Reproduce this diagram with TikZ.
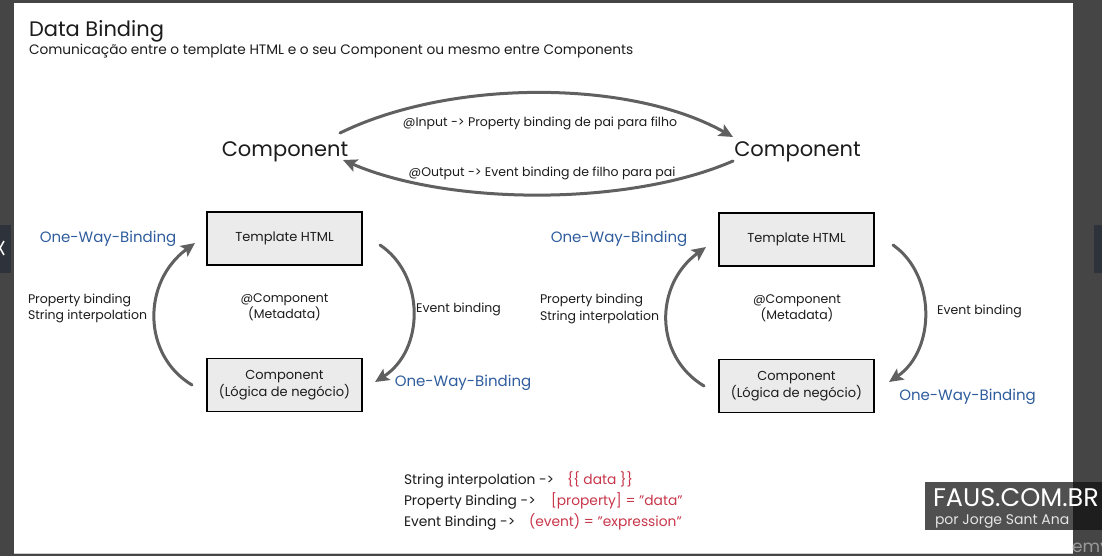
\documentclass[tikz,border=0pt]{standalone}
\usepackage{fontspec}
\setmainfont{Poppins}
\usetikzlibrary{arrows.meta}
\definecolor{framegray}{HTML}{454545}
\definecolor{tabgray}{HTML}{2E323B}
\definecolor{inkc}{HTML}{1C1C1C}
\definecolor{arrowgray}{HTML}{606060}
\definecolor{boxfill}{HTML}{EBEBEB}
\definecolor{bluec}{HTML}{2F5D9E}
\definecolor{redc}{HTML}{C8364A}
\definecolor{wmgray}{HTML}{505050}
\definecolor{wmdark}{HTML}{1E1E1E}
\begin{document}
\begin{tikzpicture}[x=1pt,y=-1pt,
  every node/.style={inner sep=0pt, outer sep=0pt, text=inkc},
  arr/.style={draw=arrowgray, line width=3pt, line cap=round,
    -{Stealth[length=14pt,width=13pt,inset=3pt]}},
  boxnode/.style={draw=black, line width=1.7pt, fill=boxfill,
    minimum width=155pt, minimum height=53pt, align=center,
    font=\fontsize{13}{17}\selectfont},
  bigcomp/.style={anchor=base, font=\fontsize{21}{25}\selectfont},
  arclabel/.style={font=\fontsize{12.5}{15}\selectfont},
  sidelabel/.style={font=\fontsize{12.5}{16.5}\selectfont, align=left},
  metalabel/.style={font=\fontsize{12.5}{16.5}\selectfont, align=center},
  owb/.style={text=bluec, font=\fontsize{15}{18}\selectfont},
  codeblack/.style={anchor=base west, font=\fontsize{13.8}{16}\selectfont},
  codered/.style={anchor=base west, text=redc, font=\fontsize{13.8}{16}\selectfont}
]
\useasboundingbox (0,0) rectangle (1102,556);
% screen frame
\fill[framegray] (0,0) rectangle (1102,556);
\fill[white] (14,3) rectangle (1073,553);
\draw[gray!40, line width=1pt] (14,553.5) -- (1073,553.5);
\fill[tabgray] (0,225) rectangle (11,273);
\draw[white, line width=1.5pt] (4,241) -- (0,248) -- (4,255);
\fill[tabgray] (1094,225) rectangle (1102,273);

% title
\node[anchor=base west, font=\fontsize{21}{25}\selectfont] (title) at (29,37) {Data Binding};
\node[anchor=base west, font=\fontsize{13.7}{17}\selectfont] (subtitle) at (29,55)
  {Comunicação entre o template HTML e o seu Component ou mesmo entre Components};

% parent / child components
\node[bigcomp] (compL) at (285,157) {Component};
\node[bigcomp] (compR) at (797.5,157) {Component};
\coordinate (inS) at (340,133);
\coordinate (inE) at (733,137);
\coordinate (outS) at (733,161);
\coordinate (outE) at (343,160);
\draw[arr] (inS) .. controls (450,79) and (630,79) .. (inE);
\draw[arr] (outS) .. controls (630,206) and (450,206) .. (outE);
\node[arclabel] (inLbl) at (540,123) {@Input -> Property binding de pai para filho};
\node[arclabel] (outLbl) at (542,173) {@Output -> Event binding de filho para pai};

% left cycle
\node[boxnode] (tplL) at (284.5,238.5) {Template HTML};
\node[boxnode] (cmpL) at (284.5,385) {Component\\(Lógica de negócio)};
\node[metalabel] (metaL) at (284.5,307) {@Component\\(Metadata)};
\coordinate (l1s) at (192,385);
\coordinate (l1e) at (195,243);
\coordinate (r1s) at (380,245);
\coordinate (r1e) at (375,382);
\draw[arr] (l1s) .. controls (142,355) and (142,282) .. (l1e);
\draw[arr] (r1s) .. controls (425,275) and (425,350) .. (r1e);
\node[owb] (owbL1) at (108,239) {One-Way-Binding};
\node[owb] (owbL2) at (463,383) {One-Way-Binding};
\node[sidelabel, anchor=west] (propL) at (28,308.5) {Property binding\\String interpolation};
\node[arclabel] (evL) at (458.5,309) {Event binding};

% right cycle
\node[boxnode] (tplR) at (796.5,239.5) {Template HTML};
\node[boxnode] (cmpR) at (796.5,386) {Component\\(Lógica de negócio)};
\node[metalabel] (metaR) at (797,308) {@Component\\(Metadata)};
\coordinate (l2s) at (704,386);
\coordinate (l2e) at (706,247);
\coordinate (r2s) at (893,245);
\coordinate (r2e) at (889,382);
\draw[arr] (l2s) .. controls (654,356) and (654,285) .. (l2e);
\draw[arr] (r2s) .. controls (936,275) and (936,350) .. (r2e);
\node[owb] (owbR1) at (619,239) {One-Way-Binding};
\node[owb] (owbR2) at (967.5,397) {One-Way-Binding};
\node[sidelabel, anchor=west] (propR) at (540,309) {Property binding\\String interpolation};
\node[arclabel] (evR) at (979.5,311) {Event binding};

% syntax summary
\node[codeblack] (s1) at (404,484) {String interpolation ->};
\node[codered] (s1r) at (567,484) {\{\{ data \}\}};
\node[codeblack] (s2) at (404,505) {Property Binding ->};
\node[codered] (s2r) at (551,505) {[property] = "data"};
\node[codeblack] (s3) at (404,526) {Event Binding ->};
\node[codered] (s3r) at (529,526) {(event) = "expression"};

% watermark
\fill[wmgray] (925,482) rectangle (1073,530);
\fill[wmdark] (1073,482) rectangle (1102,530);
\node[anchor=base west, text=white, font=\fontsize{25.5}{28}\selectfont] (wm1) at (933,506) {FAUS.COM.BR};
\node[anchor=base west, text=white!90!black, font=\fontsize{14}{16}\selectfont] (wm2) at (935,524) {por Jorge Sant Ana};
\node[anchor=base west, text=gray!80, font=\fontsize{17}{20}\selectfont] (wm3) at (1072,552) {emy};
\end{tikzpicture}
\end{document}
